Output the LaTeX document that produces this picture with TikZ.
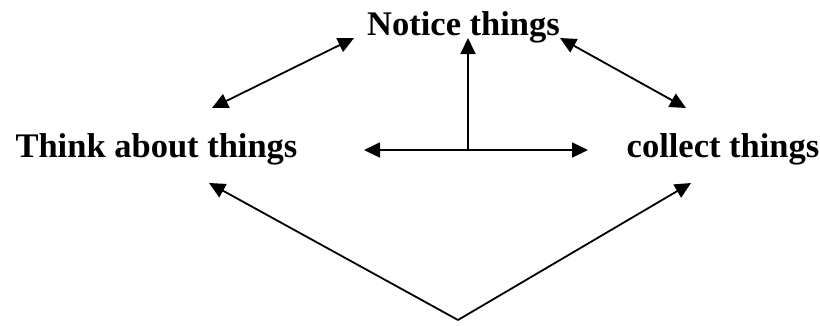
\documentclass[tikz,border=0pt]{standalone}
\usepackage{fontspec}
\setmainfont{Liberation Serif}
\usetikzlibrary{arrows.meta}
\begin{document}
\begin{tikzpicture}[x=1pt,y=-1pt,
  lbl/.style={font=\fontsize{34.5}{40}\selectfont\bfseries, inner sep=0pt, anchor=base},
  conn/.style={line width=1.8pt, -{Triangle[length=16pt,width=15pt]}},
  dconn/.style={line width=1.8pt, {Triangle[length=16pt,width=15pt]}-{Triangle[length=16pt,width=15pt]}}]
\useasboundingbox (0,0) rectangle (820,325);
\node[lbl] (notice) at (463.5,35) {Notice things};
\node[lbl] (think) at (156.5,157) {Think about things};
\node[lbl] (collect) at (723,157) {collect things};
% endpoints
\coordinate (tl1) at (212,108);
\coordinate (tl2) at (354,38);
\coordinate (tr1) at (560,38);
\coordinate (tr2) at (686,108);
\coordinate (vtop) at (468,38);
\coordinate (hmid) at (468,150);
\coordinate (hl) at (364,150);
\coordinate (hr) at (588,150);
\coordinate (bot) at (458,320);
\coordinate (bl) at (209,183);
\coordinate (br) at (691,183);
\draw[dconn] (tl1) -- (tl2);
\draw[dconn] (tr1) -- (tr2);
\draw[conn] (hmid) -- (vtop);
\draw[dconn] (hl) -- (hr);
\draw[conn] (bot) -- (bl);
\draw[conn] (bot) -- (br);
\end{tikzpicture}
\end{document}
